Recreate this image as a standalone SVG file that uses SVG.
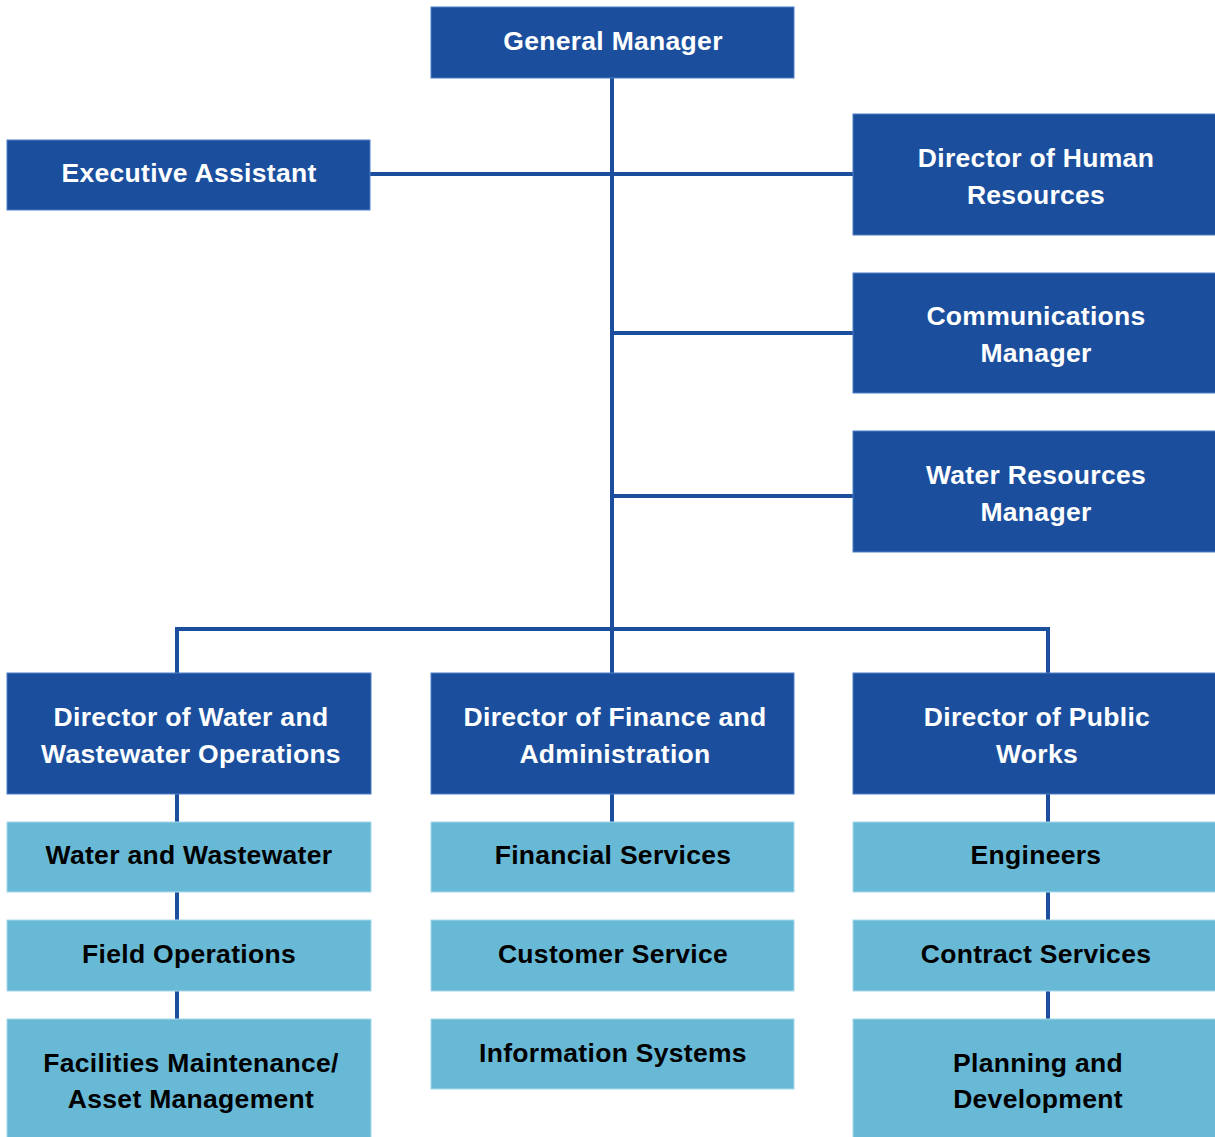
<svg xmlns="http://www.w3.org/2000/svg" width="1215" height="1137" viewBox="0 0 1215 1137">
<style>
.dark{fill:#1B4F9E;stroke:#4F7FC4;stroke-width:1}
.light{fill:#67B9D6;stroke:#A8D8EA;stroke-width:1}
.tw{font-family:"Liberation Sans",Arial,sans-serif;font-weight:bold;font-size:26.5px;letter-spacing:0.3px;fill:#fff;text-anchor:middle}
.tb{font-family:"Liberation Sans",Arial,sans-serif;font-weight:bold;font-size:26.5px;letter-spacing:0.3px;fill:#000;text-anchor:middle}
.c{stroke:#1B4F9E;stroke-width:4;fill:none}
</style>
<rect width="1215" height="1137" fill="#fff"/>
<g id="connectors">
<line class="c" x1="612" y1="78" x2="612" y2="673"/>
<line class="c" x1="370" y1="174" x2="853" y2="174"/>
<line class="c" x1="612" y1="333" x2="853" y2="333"/>
<line class="c" x1="612" y1="496" x2="853" y2="496"/>
<polyline class="c" points="177,673 177,629 1048,629 1048,673"/>
<line class="c" x1="177" y1="794" x2="177" y2="822"/>
<line class="c" x1="177" y1="892" x2="177" y2="920"/>
<line class="c" x1="177" y1="991" x2="177" y2="1019"/>
<line class="c" x1="612" y1="794" x2="612" y2="822"/>
<line class="c" x1="1048" y1="794" x2="1048" y2="822"/>
<line class="c" x1="1048" y1="892" x2="1048" y2="920"/>
<line class="c" x1="1048" y1="991" x2="1048" y2="1019"/>
</g>
<g id="general-manager"><rect class="dark" x="431" y="7" width="363" height="71"/><text class="tw" x="613" y="50">General Manager</text></g>
<g id="executive-assistant"><rect class="dark" x="7" y="140" width="363" height="70"/><text class="tw" x="189" y="182">Executive Assistant</text></g>
<g id="director-hr"><rect class="dark" x="853" y="114" width="363" height="121"/><text class="tw" x="1036" y="167">Director of Human</text><text class="tw" x="1036" y="204">Resources</text></g>
<g id="communications-manager"><rect class="dark" x="853" y="273" width="363" height="120"/><text class="tw" x="1036" y="325">Communications</text><text class="tw" x="1036" y="362">Manager</text></g>
<g id="water-resources-manager"><rect class="dark" x="853" y="431" width="363" height="121"/><text class="tw" x="1036" y="484">Water Resources</text><text class="tw" x="1036" y="521">Manager</text></g>
<g id="director-water"><rect class="dark" x="7" y="673" width="364" height="121"/><text class="tw" x="191" y="726">Director of Water and</text><text class="tw" x="191" y="763">Wastewater Operations</text></g>
<g id="director-finance"><rect class="dark" x="431" y="673" width="363" height="121"/><text class="tw" x="615" y="726">Director of Finance and</text><text class="tw" x="615" y="763">Administration</text></g>
<g id="director-public-works"><rect class="dark" x="853" y="673" width="363" height="121"/><text class="tw" x="1037" y="726">Director of Public</text><text class="tw" x="1037" y="763">Works</text></g>
<g id="water-wastewater"><rect class="light" x="7" y="822" width="364" height="70"/><text class="tb" x="189" y="864">Water and Wastewater</text></g>
<g id="field-operations"><rect class="light" x="7" y="920" width="364" height="71"/><text class="tb" x="189" y="963">Field Operations</text></g>
<g id="facilities"><rect class="light" x="7" y="1019" width="364" height="120"/><text class="tb" x="191" y="1072">Facilities Maintenance/</text><text class="tb" x="191" y="1108">Asset Management</text></g>
<g id="financial-services"><rect class="light" x="431" y="822" width="363" height="70"/><text class="tb" x="613" y="864">Financial Services</text></g>
<g id="customer-service"><rect class="light" x="431" y="920" width="363" height="71"/><text class="tb" x="613" y="963">Customer Service</text></g>
<g id="information-systems"><rect class="light" x="431" y="1019" width="363" height="70"/><text class="tb" x="613" y="1062">Information Systems</text></g>
<g id="engineers"><rect class="light" x="853" y="822" width="363" height="70"/><text class="tb" x="1036" y="864">Engineers</text></g>
<g id="contract-services"><rect class="light" x="853" y="920" width="363" height="71"/><text class="tb" x="1036" y="963">Contract Services</text></g>
<g id="planning"><rect class="light" x="853" y="1019" width="363" height="120"/><text class="tb" x="1038" y="1072">Planning and</text><text class="tb" x="1038" y="1108">Development</text></g>
</svg>
